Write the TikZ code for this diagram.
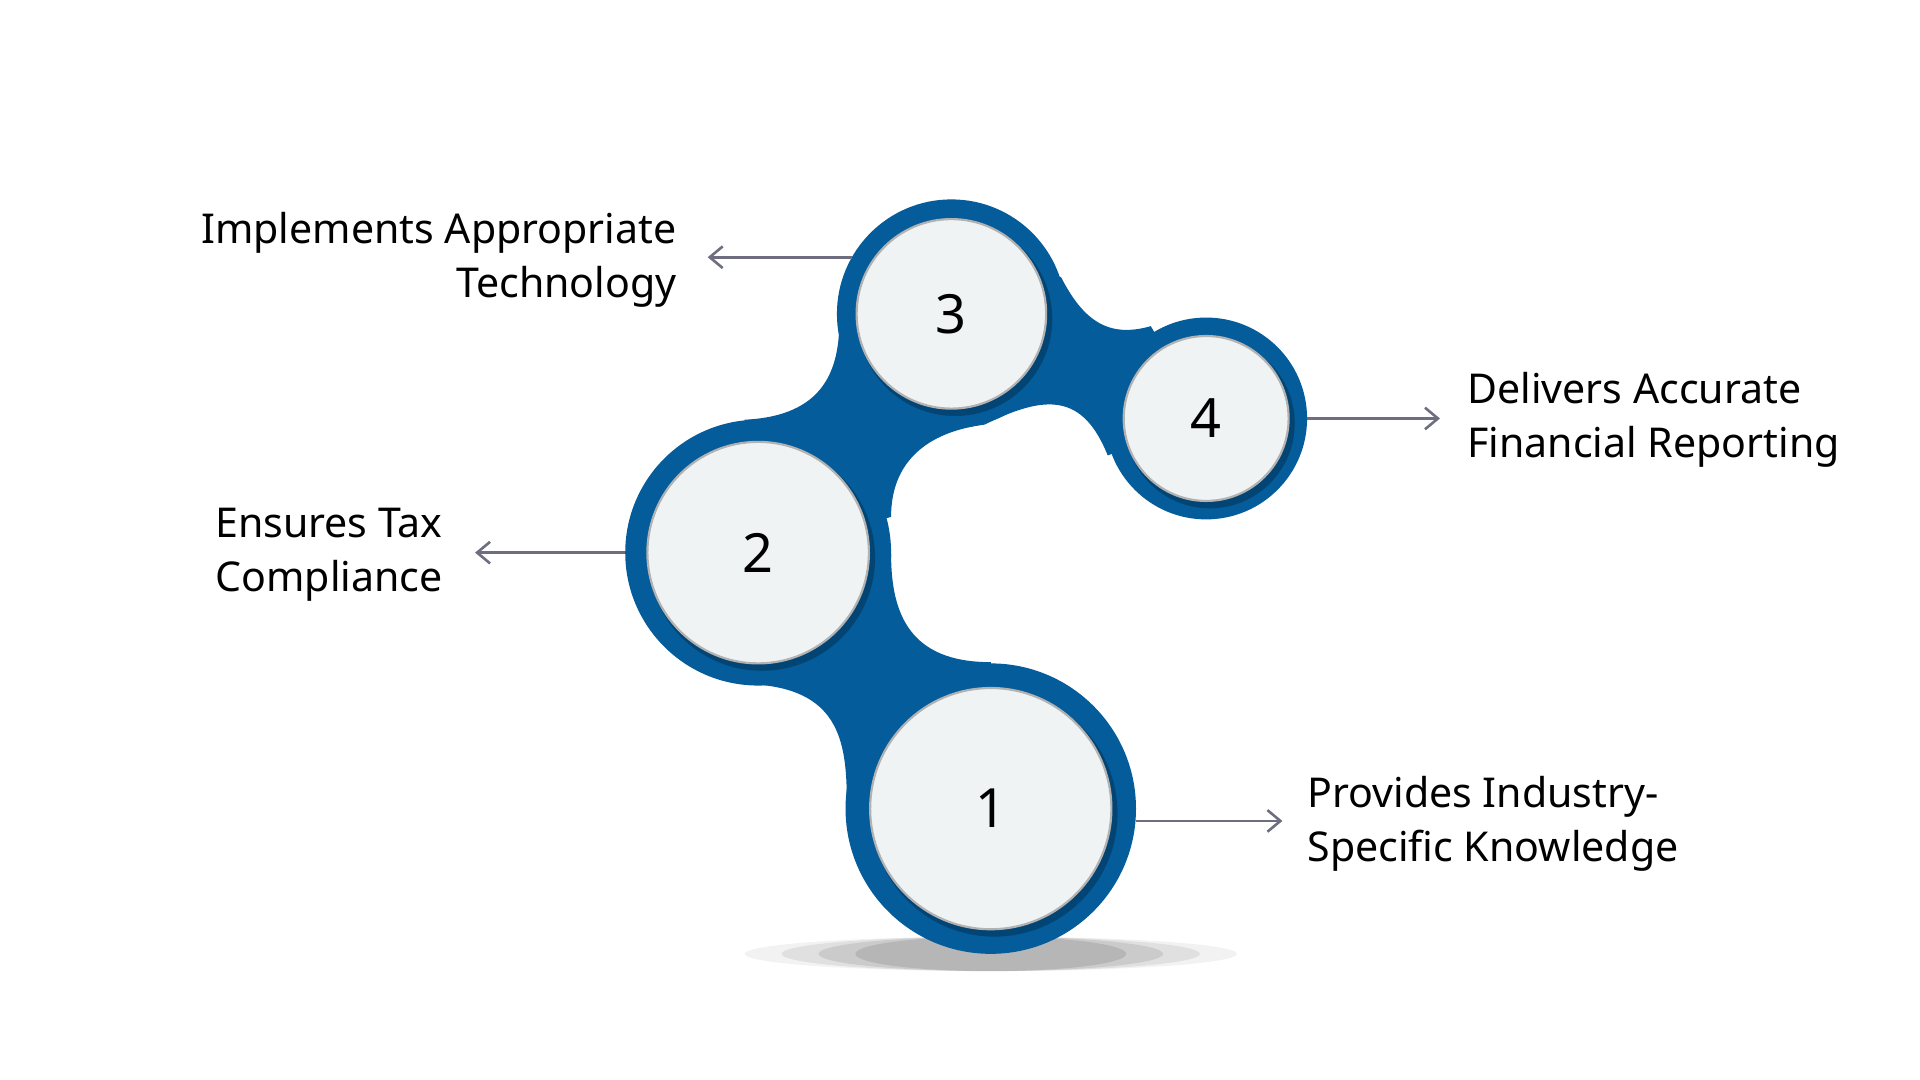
\documentclass[tikz,border=0pt]{standalone}
\usepackage{fontspec}
\setmainfont{Noto Sans}
\usetikzlibrary{arrows.meta}
\definecolor{blu}{HTML}{045C9A}
\definecolor{inn}{HTML}{F0F3F4}
\definecolor{arr}{HTML}{6E6E80}
\begin{document}
\begin{tikzpicture}[x=0.02cm,y=-0.02cm,
  lab/.style={font=\fontsize{19}{23}\selectfont\bfseries,inner sep=0pt},
  num/.style={font=\fontsize{25}{30}\selectfont\bfseries},
  con/.style={draw=arr,line width=1.2pt,-{Straight Barb[length=6pt,width=10pt]}}]
\useasboundingbox (0,0) rectangle (1560,877);
\fill[white] (0,0) rectangle (1560,877);
% shadow
\foreach \o/\r in {0.05/200,0.07/170,0.09/140,0.1/110}
  \fill[black,opacity=\o] (805,775) ellipse ({\r} and 14);
% bridges
\fill[blu] (616,449) -- (612,556) .. controls (680,560) and (688,600) .. (688,650) -- (805,657) -- (805,538) .. controls (740,538) and (724,500) .. (724,450) -- cycle;
\fill[blu] (616,449) -- (605,341) .. controls (670,338) and (682,300) .. (682,260) -- (773,255) -- (800,345) .. controls (760,350) and (724,370) .. (724,420) -- cycle;
\fill[blu] (773,255) -- (862,225) .. controls (880,260) and (900,275) .. (935,265) -- (980,340) -- (900,370) .. controls (880,320) and (850,320) .. (800,345) -- cycle;
% circles
\foreach \n/\x/\y/\R/\r in {1/805/657/118/98, 2/616/449/108/90, 3/773/255/93/77, 4/980/340/82/67}{
  \fill[blu] (\x,\y) circle (\R);
  \fill[black,opacity=0.25] (\x+3,\y+4) circle (\r+2);
  \fill[inn] (\x,\y) circle (\r);
  \draw[gray!60,line width=1pt] (\x,\y) circle (\r);
  \node[num] (c\n) at (\x,\y) {\n};
}
\coordinate (a3s) at (692,209); \coordinate (a3e) at (575,209);
\coordinate (a2s) at (508,449); \coordinate (a2e) at (386,449);
\coordinate (a4s) at (1062,340); \coordinate (a4e) at (1170,340);
\coordinate (a1s) at (923,667); \coordinate (a1e) at (1042,667);
\draw[con] (a3s) -- (a3e);
\draw[con] (a2s) -- (a2e);
\draw[con] (a4s) -- (a4e);
\draw[con] (a1s) -- (a1e);
\node[lab,align=right,anchor=east] (t3) at (550,211) {Implements Appropriate\\[2pt]Technology};
\node[lab,align=right,anchor=east] (t2) at (360,451) {Ensures Tax\\[2pt]Compliance};
\node[lab,align=left,anchor=west] (t4) at (1192,341) {Delivers Accurate\\[2pt]Financial Reporting};
\node[lab,align=left,anchor=west] (t1) at (1062,669) {Provides Industry-\\[2pt]Specific Knowledge};
\end{tikzpicture}
\end{document}
